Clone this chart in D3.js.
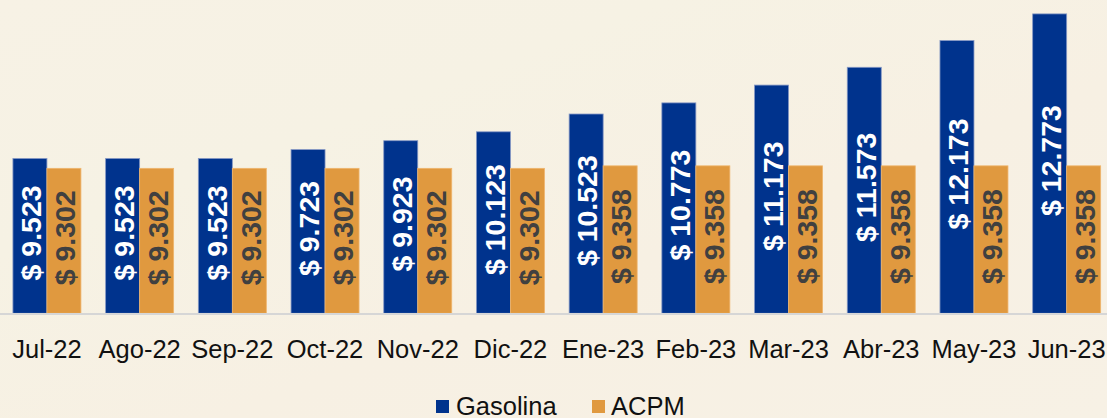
<!DOCTYPE html>
<html>
<head>
<meta charset="utf-8">
<script src="https://cdn.jsdelivr.net/npm/d3@7"></script>
<style>
  html, body { margin: 0; padding: 0; background: #f7f1e4; }
  svg { display: block; }
</style>
</head>
<body>
<svg id="chart" width="1107" height="418"></svg>
<script>
const categories = ["Jul-22","Ago-22","Sep-22","Oct-22","Nov-22","Dic-22","Ene-23","Feb-23","Mar-23","Abr-23","May-23","Jun-23"];
const gasolina = [9523, 9523, 9523, 9723, 9923, 10123, 10523, 10773, 11173, 11573, 12173, 12773];
const acpm = [9302, 9302, 9302, 9302, 9302, 9302, 9358, 9358, 9358, 9358, 9358, 9358];
const seriesNames = ["Gasolina", "ACPM"];
const colors = ["#00338d", "#e0993f"];

const W = 1107, H = 418;
const svg = d3.select("#chart");

// background with subtle diagonal sheen
const defs = svg.append("defs");
const grad = defs.append("linearGradient").attr("id","bg").attr("x1","0").attr("y1","0").attr("x2","1").attr("y2","1");
grad.append("stop").attr("offset","0%").attr("stop-color","#f7f2e5");
grad.append("stop").attr("offset","30%").attr("stop-color","#f6f2e4");
grad.append("stop").attr("offset","60%").attr("stop-color","#f7f0e3");
grad.append("stop").attr("offset","100%").attr("stop-color","#f7f1e5");
svg.append("rect").attr("width", W).attr("height", H).attr("fill", "url(#bg)");

const baseY = 313.3;
const y = d3.scaleLinear().domain([6044, 13000]).range([baseY, 3.8]);
const x = d3.scaleBand().domain(categories).range([0.6, 1113]).paddingInner(0.2665).paddingOuter(0.133);
const xs = d3.scaleBand().domain(seriesNames).range([0, x.bandwidth()]);

const data = categories.map((c, i) => ({cat: c, vals: [
  {name: "Gasolina", v: gasolina[i]},
  {name: "ACPM", v: acpm[i]}
]}));

const groups = svg.append("g").selectAll("g").data(data).join("g")
  .attr("transform", d => `translate(${x(d.cat)},0)`);

groups.selectAll("rect").data(d => d.vals).join("rect")
  .attr("x", d => xs(d.name))
  .attr("y", d => y(d.v))
  .attr("width", xs.bandwidth())
  .attr("height", d => baseY - y(d.v))
  .attr("fill", (d, i) => colors[i])
  .attr("stroke", (d, i) => i === 0 ? "#8497c4" : "#efb56d")
  .attr("stroke-width", 0.8);

const fmt = v => "$ " + d3.format(",")(v).replace(/,/g, ".");

groups.selectAll("text.lbl").data(d => d.vals).join("text")
  .attr("class", "lbl")
  .attr("transform", d => {
    const cx = xs(d.name) + xs.bandwidth() / 2 + 1;
    const cy = (y(d.v) + baseY) / 2 - 3;
    return `translate(${cx},${cy}) rotate(-90)`;
  })
  .attr("text-anchor", "middle")
  .attr("dy", "0.36em")
  .attr("font-family", "Liberation Sans, Arial, sans-serif")
  .attr("font-weight", "bold")
  .attr("font-size", 28.5)
  .attr("fill", (d, i) => i === 0 ? "#ffffff" : "#404040")
  .text(d => fmt(d.v));

// axis line
svg.append("line").attr("x1", 0).attr("x2", W).attr("y1", baseY + 0.8).attr("y2", baseY + 0.8)
  .attr("stroke", "#d6d6d6").attr("stroke-width", 2);

// category axis labels
const xAxis = d3.axisBottom(x).tickSize(0).tickPadding(0);
const ax = svg.append("g").attr("transform", `translate(0,${baseY})`).call(xAxis);
ax.select(".domain").remove();
ax.selectAll("text")
  .attr("y", 44.7).attr("dy", 0)
  .attr("font-family", "Liberation Sans, Arial, sans-serif")
  .attr("font-size", 25.5)
  .attr("fill", "#111");

// legend
const legend = svg.append("g");
const legendItems = [{name: seriesNames[0], sx: 436, tx: 456}, {name: seriesNames[1], sx: 592, tx: 611}];
legendItems.forEach((it, i) => {
  legend.append("rect").attr("x", it.sx).attr("y", 400).attr("width", 13).attr("height", 13).attr("fill", colors[i]);
  legend.append("text").attr("x", it.tx).attr("y", 415)
    .attr("font-family", "Liberation Sans, Arial, sans-serif")
    .attr("font-size", 25.5).attr("fill", "#111").text(it.name);
});
</script>
</body>
</html>
